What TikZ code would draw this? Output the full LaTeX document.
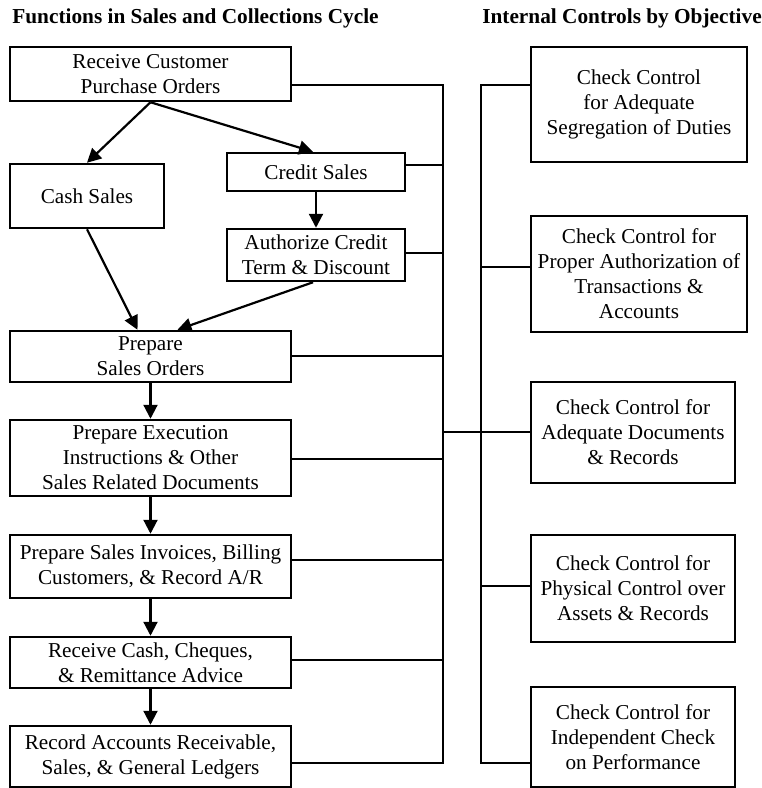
\documentclass[tikz,border=0pt]{standalone}
\usepackage{fontspec}
\setmainfont{Liberation Serif}
\usetikzlibrary{arrows.meta}
\begin{document}
\begin{tikzpicture}[x=1pt,y=-1pt,
  box/.style={draw,line width=2.5pt,rectangle,inner sep=0pt,align=center,
    font=\fontsize{21.2}{25}\selectfont},
  conn/.style={line width=2.2pt},
  arr/.style={line width=2.2pt,-{Triangle[length=14pt,width=14pt]}},
  ttl/.style={font=\fontsize{21.3}{25}\selectfont\bfseries,inner sep=0pt}]
\useasboundingbox (0,0) rectangle (762,788);
% titles
\node[ttl] (t1) at (195.5,18) {Functions in Sales and Collections Cycle};
\node[ttl] (t2) at (622,18) {Internal Controls by Objective};
% left boxes
\node[box,minimum width=281,minimum height=54] (rcpo) at (150.5,74) {Receive Customer\\Purchase Orders};
\node[box,minimum width=154,minimum height=64] (cash) at (87,196) {Cash Sales};
\node[box,minimum width=178,minimum height=38] (credit) at (316,172) {Credit Sales};
\node[box,minimum width=178,minimum height=52] (auth) at (316,255) {Authorize Credit\\Term \& Discount};
\node[box,minimum width=281,minimum height=51] (pso) at (150.5,356.5) {Prepare\\Sales Orders};
\node[box,minimum width=281,minimum height=76] (pe) at (150.5,458) {Prepare Execution\\Instructions \& Other\\Sales Related Documents};
\node[box,minimum width=281,minimum height=63] (psi) at (150.5,566.5) {Prepare Sales Invoices, Billing\\Customers, \& Record A/R};
\node[box,minimum width=281,minimum height=51] (rc) at (150.5,662.5) {Receive Cash, Cheques,\\\& Remittance Advice};
\node[box,minimum width=281,minimum height=61] (rar) at (150.5,756.5) {Record Accounts Receivable,\\Sales, \& General Ledgers};
% right boxes
\node[box,minimum width=216,minimum height=115] (c1) at (639,104.5) {Check Control\\for Adequate\\Segregation of Duties};
\node[box,minimum width=216,minimum height=116] (c2) at (639,274) {Check Control for\\Proper Authorization of\\Transactions \&\\Accounts};
\node[box,minimum width=204,minimum height=101] (c3) at (633,432.5) {Check Control for\\Adequate Documents\\\& Records};
\node[box,minimum width=204,minimum height=107] (c4) at (633,588.5) {Check Control for\\Physical Control over\\Assets \& Records};
\node[box,minimum width=204,minimum height=100] (c5) at (633,737) {Check Control for\\Independent Check\\on Performance};
% arrows
\draw[arr] (rcpo.south) -- (cash.north);
\draw[arr] (rcpo.south) -- ([xshift=-3pt]credit.north);
\draw[arr] (credit.south) -- (auth.north);
\draw[arr] (cash.south) -- ([xshift=-13pt]pso.north);
\draw[arr] ([xshift=-3pt]auth.south) -- ([xshift=27pt]pso.north);
\draw[arr] (pso.south) -- (pe.north);
\draw[arr] (pe.south) -- (psi.north);
\draw[arr] (psi.south) -- (rc.north);
\draw[arr] (rc.south) -- (rar.north);
% left bus
\coordinate (lb1) at (443,85);
\coordinate (lb2) at (443,165);
\coordinate (lb3) at (443,253);
\coordinate (lb4) at (443,356);
\coordinate (lb5) at (443,459);
\coordinate (lb6) at (443,560);
\coordinate (lb7) at (443,660);
\coordinate (lb8) at (443,763);
\coordinate (lbm) at (443,432);
\draw[conn] (rcpo.east |- lb1) -- (lb1) -- (lb8) -- (rar.east |- lb8);
\draw[conn] (credit.east |- lb2) -- (lb2);
\draw[conn] (auth.east |- lb3) -- (lb3);
\draw[conn] (pso.east |- lb4) -- (lb4);
\draw[conn] (pe.east |- lb5) -- (lb5);
\draw[conn] (psi.east |- lb6) -- (lb6);
\draw[conn] (rc.east |- lb7) -- (lb7);
% right bus
\coordinate (rb1) at (481,85);
\coordinate (rb2) at (481,267);
\coordinate (rb4) at (481,586);
\coordinate (rb5) at (481,763);
\draw[conn] (c1.west |- rb1) -- (rb1) -- (rb5) -- (c5.west |- rb5);
\draw[conn] (c2.west |- rb2) -- (rb2);
\draw[conn] (c4.west |- rb4) -- (rb4);
\draw[conn] (lbm) -- (c3.west |- lbm);
\end{tikzpicture}
\end{document}
